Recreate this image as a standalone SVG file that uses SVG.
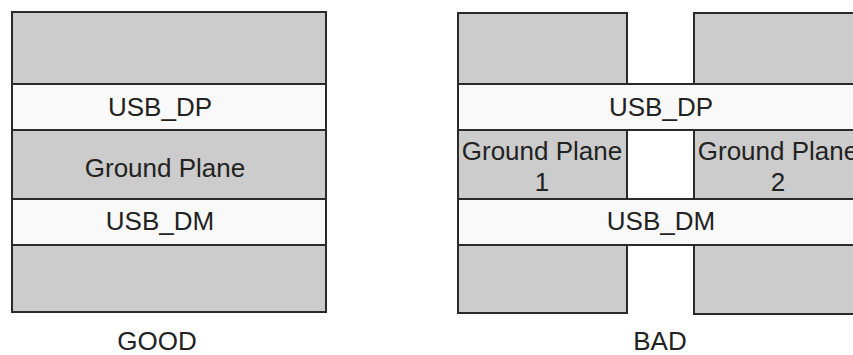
<svg xmlns="http://www.w3.org/2000/svg" width="853" height="355" viewBox="0 0 853 355">
<style>
.g{fill:#cccccc;stroke:#2a2a2a;stroke-width:2}
.s{fill:#f9f9f9;stroke:#2a2a2a;stroke-width:2}
text{font-family:"Liberation Sans",Arial,sans-serif;font-size:26px;fill:#222;text-anchor:middle}
</style>
<rect width="853" height="355" fill="#ffffff"/>
<g id="good">
<g id="good-top"><rect class="g" x="12" y="12" width="314" height="72"/></g>
<g id="good-dp"><rect class="s" x="12" y="84" width="314" height="46"/><text x="160" y="116">USB_DP</text></g>
<g id="good-gnd"><rect class="g" x="12" y="130" width="314" height="69"/><text x="165" y="177">Ground Plane</text></g>
<g id="good-dm"><rect class="s" x="12" y="199" width="314" height="46"/><text x="160" y="230">USB_DM</text></g>
<g id="good-bottom"><rect class="g" x="12" y="245" width="314" height="67"/></g>
<text x="157" y="350">GOOD</text>
</g>
<g id="bad">
<g id="bad-top-l"><rect class="g" x="458" y="13" width="169" height="71"/></g>
<g id="bad-top-r"><rect class="g" x="694" y="13" width="169" height="71"/></g>
<g id="bad-dp"><rect class="s" x="458" y="84" width="405" height="46"/><text x="661" y="116">USB_DP</text></g>
<g id="bad-gnd1"><rect class="g" x="458" y="130" width="169" height="69"/><text x="542" y="160">Ground Plane</text><text x="542" y="191">1</text></g>
<g id="bad-gnd2"><rect class="g" x="694" y="130" width="169" height="69"/><text x="778" y="160">Ground Plane</text><text x="778" y="191">2</text></g>
<g id="bad-dm"><rect class="s" x="458" y="199" width="405" height="46"/><text x="661" y="230">USB_DM</text></g>
<g id="bad-bot-l"><rect class="g" x="458" y="245" width="169" height="68"/></g>
<g id="bad-bot-r"><rect class="g" x="694" y="245" width="169" height="69"/></g>
<text x="660" y="350">BAD</text>
</g>
<g id="connectors"/>
</svg>
